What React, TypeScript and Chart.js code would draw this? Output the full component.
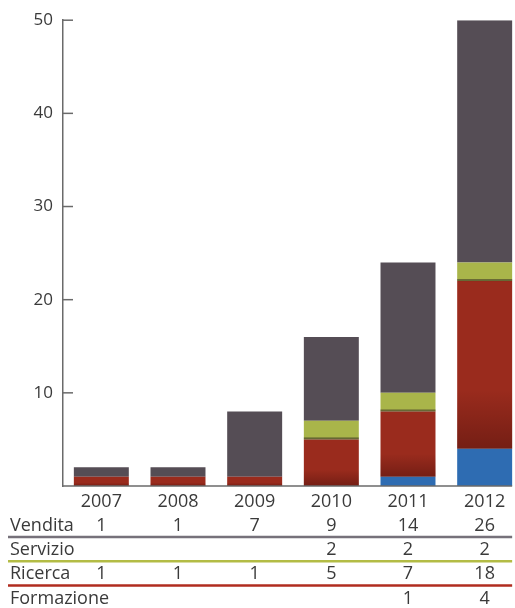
import React, { useEffect, useRef } from 'react';
import { Chart, registerables } from 'chart.js';

Chart.register(...registerables);

const years = ['2007', '2008', '2009', '2010', '2011', '2012'];
const vendita: (number | null)[] = [1, 1, 7, 9, 14, 26];
const servizio: (number | null)[] = [null, null, null, 2, 2, 2];
const ricerca: (number | null)[] = [1, 1, 1, 5, 7, 18];
const formazione: (number | null)[] = [null, null, null, null, 1, 4];

const rowNames = ['Vendita', 'Servizio', 'Ricerca', 'Formazione'];
const rowValues = [vendita, servizio, ricerca, formazione];
const rowLineColors = ['#76717a', '#b3bc45', '#b02c1f', null];

const colVendita = '#554d55';
const colServizio = '#a9b54a';
const colRicerca = '#9a2b1d';
const colFormazione = '#2e6cb2';

const FONT = '"Open Sans", "Noto Sans", sans-serif';
const TEXT = '#3a3a3a';

const tablePlugin = {
  id: 'tablePlugin',
  afterDatasetsDraw(chart: any) {
    const ctx = chart.ctx;
    const metaR = chart.getDatasetMeta(1);
    metaR.data.forEach((el: any, i: number) => {
      if (ricerca[i] == null) return;
      const { x, y, base, width } = el.getProps(['x', 'y', 'base', 'width'], true);
      const g = ctx.createLinearGradient(0, y, 0, base);
      g.addColorStop(0, 'rgba(30,0,0,0)');
      g.addColorStop(0.65, 'rgba(30,0,0,0)');
      g.addColorStop(1, 'rgba(30,0,0,0.3)');
      ctx.save();
      ctx.fillStyle = g;
      ctx.fillRect(x - width / 2, y, width, base - y);
      ctx.restore();
    });
    const metaS = chart.getDatasetMeta(2);
    metaS.data.forEach((el: any, i: number) => {
      if (servizio[i] == null) return;
      const { x, base, width } = el.getProps(['x', 'base', 'width'], true);
      ctx.save();
      ctx.fillStyle = 'rgba(50,40,35,0.55)';
      ctx.fillRect(x - width / 2, base - 2, width, 2);
      ctx.restore();
    });
  },
  afterDraw(chart: any) {
    const ctx = chart.ctx;
    const area = chart.chartArea;
    const xs = chart.scales.x;
    const ys = chart.scales.y;
    const lastMeta = chart.getDatasetMeta(0);
    const lastEl = lastMeta.data[lastMeta.data.length - 1];
    const rightEnd = lastEl.x + lastEl.width / 2;

    ctx.save();
    ctx.strokeStyle = '#6a6a6a';
    ctx.lineWidth = 1.5;
    ctx.beginPath();
    ctx.moveTo(area.left, area.bottom);
    ctx.lineTo(rightEnd, area.bottom);
    ctx.stroke();
    ys.ticks.forEach((t: any) => {
      if (t.value === 0) return;
      const py = ys.getPixelForValue(t.value);
      ctx.beginPath();
      ctx.moveTo(area.left, py);
      ctx.lineTo(area.left + 10, py);
      ctx.stroke();
    });

    ctx.font = '400 18px ' + FONT;
    ctx.fillStyle = TEXT;
    ctx.textBaseline = 'middle';
    const rowStart = area.bottom + 39.5;
    const rowStep = 24.3;
    rowNames.forEach((name, r) => {
      const cy = rowStart + r * rowStep;
      ctx.textAlign = 'left';
      ctx.fillText(name, 10, cy);
      ctx.textAlign = 'center';
      rowValues[r].forEach((v, i) => {
        if (v == null) return;
        ctx.fillText(String(v), xs.getPixelForValue(i), cy);
      });
      const lc = rowLineColors[r];
      if (lc) {
        ctx.strokeStyle = lc;
        ctx.lineWidth = 2.5;
        ctx.beginPath();
        ctx.moveTo(8, cy + 11.5);
        ctx.lineTo(rightEnd, cy + 11.5);
        ctx.stroke();
      }
    });
    ctx.restore();
  },
};

export default function App() {
  const ref = useRef<HTMLCanvasElement | null>(null);
  useEffect(() => {
    if (!ref.current) return;
    const chart = new Chart(ref.current, {
      type: 'bar',
      data: {
        labels: years,
        datasets: [
          { label: 'Formazione', data: formazione, backgroundColor: colFormazione },
          { label: 'Ricerca', data: ricerca, backgroundColor: colRicerca },
          { label: 'Servizio', data: servizio, backgroundColor: colServizio },
          { label: 'Vendita', data: vendita, backgroundColor: colVendita },
        ],
      },
      options: {
        responsive: false,
        animation: false,
        devicePixelRatio: 1,
        layout: { padding: { top: 20, right: 7, left: 0, bottom: 0 } },
        datasets: { bar: { barPercentage: 0.717, categoryPercentage: 1 } },
        plugins: { legend: { display: false }, tooltip: { enabled: false } },
        scales: {
          x: {
            stacked: true,
            offset: true,
            grid: { display: false, drawTicks: false },
            border: { display: false },
            ticks: { color: TEXT, font: { family: FONT, size: 18, weight: 400 }, padding: 5 },
            afterFit: (s: any) => { s.height = 122; },
          },
          y: {
            stacked: true,
            min: 0,
            max: 50,
            grid: { display: false, drawTicks: false },
            border: { display: true, color: '#6a6a6a', width: 1.5 },
            ticks: {
              stepSize: 10,
              color: TEXT,
              padding: 10,
              font: { family: FONT, size: 17, weight: 400 },
              callback: (v: any) => (v === 0 ? '' : String(v)),
            },
            afterFit: (s: any) => { s.width = 63; },
          },
        },
      },
      plugins: [tablePlugin],
    });
    return () => chart.destroy();
  }, []);
  return (
    <div style={{ position: 'fixed', left: 0, top: 0, width: 515, height: 608, overflow: 'hidden', background: '#fff' }}>
      <canvas ref={ref} width={530} height={608} style={{ display: 'block' }} />
    </div>
  );
}
